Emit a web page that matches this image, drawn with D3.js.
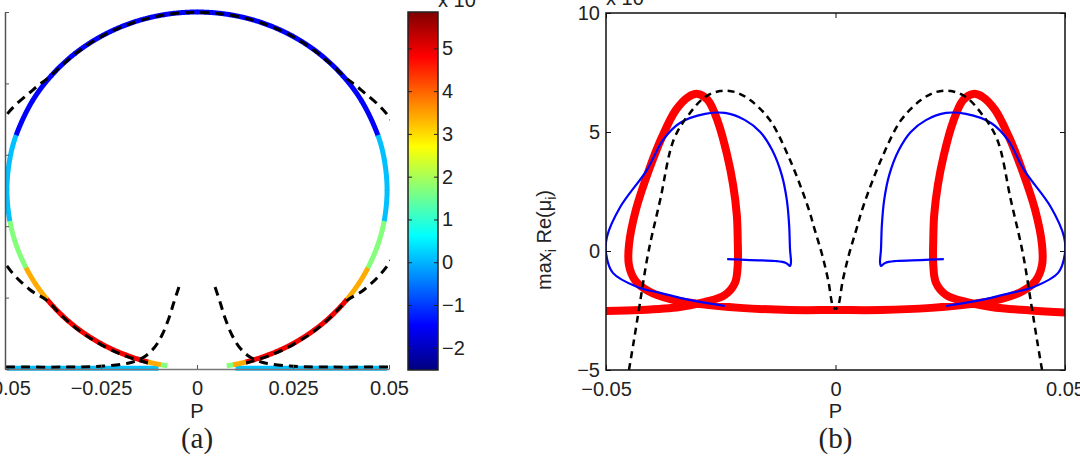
<!DOCTYPE html>
<html><head><meta charset="utf-8">
<script src="https://cdn.jsdelivr.net/npm/d3@7"></script>
<style>html,body{margin:0;padding:0;background:#fff;overflow:hidden}</style>
</head><body>
<svg id="c" width="1080" height="471"></svg>
<script>
// ---------------- Panel (a) data ----------------
const circP = [-0.00774,-0.00944,-0.01281,-0.01854,-0.02475,-0.03048,-0.03500,-0.03901,-0.04198,-0.04449,-0.04708,-0.04875,-0.0495,-0.04875,-0.04708,-0.04287,-0.03792,-0.03182,-0.02475,-0.01693,-0.00860,0,
  0.00860,0.01693,0.02475,0.03182,0.03792,0.04287,0.04708,0.04875,0.0495,0.04875,0.04708,0.04449,0.04198,0.03901,0.03500,0.03048,0.02475,0.01854,0.01281,0.00944,0.00774];
const circY = [0.045,0.060,0.099,0.196,0.348,0.543,0.744,0.972,1.186,1.414,1.737,2.074,2.507,2.940,3.277,3.754,4.109,4.417,4.666,4.850,4.962,5.000,
  4.962,4.850,4.666,4.417,4.109,3.754,3.277,2.940,2.507,2.074,1.737,1.414,1.186,0.972,0.744,0.543,0.348,0.196,0.099,0.060,0.045];
const circC = [1.7,3.4,4.9,4.9,4.9,4.9,4.9,3.4,3.4,1.7,1.7,0.1,0.1,0.1,-1.5,-1.5,-1.5,-1.5,-1.5,-1.5,-1.5,-1.5,
  -1.5,-1.5,-1.5,-1.5,-1.5,-1.5,0.1,0.1,0.1,1.7,1.7,3.4,3.4,4.9,4.9,4.9,4.9,4.9,3.4,1.7,1.7];
const baseLP = [-0.0495,-0.0100], baseRP = [0.0100,0.0495];
const baseY = [0.012,0.012];
const baseC = 0.1;
const dashOP = [-0.0128,-0.0185,-0.0248,-0.0305,-0.0350,-0.0392,-0.0435,-0.0500,-0.0590,-0.0500,-0.0427,-0.0385,-0.0318,-0.0248,-0.0169,-0.0086,0,
  0.0086,0.0169,0.0248,0.0318,0.0385,0.0427,0.0500,0.0590,0.0500,0.0435,0.0392,0.0350,0.0305,0.0248,0.0185,0.0128];
const dashOY = [0.085,0.18,0.335,0.53,0.735,0.965,1.11,1.48,2.507,3.53,3.91,4.09,4.41,4.66,4.845,4.958,4.995,
  4.958,4.845,4.66,4.41,4.09,3.91,3.53,2.507,1.48,1.11,0.965,0.735,0.53,0.335,0.18,0.085];
const dashIRP = [0.0047,0.0060,0.0073,0.0091,0.0112,0.0138,0.0177,0.0242,0.0320,0.0500];
const dashILP = [-0.0047,-0.0060,-0.0073,-0.0091,-0.0112,-0.0138,-0.0177,-0.0242,-0.0320,-0.0500];
const dashIY  = [1.148,0.938,0.714,0.476,0.294,0.168,0.084,0.042,0.028,0.028];
const xTicksA = [-0.05,-0.025,0,0.025,0.05];
const yTicksA = [0,1,2,3,4,5];
const cbTicks = [-2,-1,0,1,2,3,4,5];
const cbRange = [-2.52,5.85];

// ---------------- Panel (b) data ----------------
const bDashLP = [-0.0450,-0.0439,-0.0426,-0.0408,-0.0382,-0.0352,-0.0317,-0.0284,-0.0252,-0.0219,-0.0186,-0.0143,-0.0099,-0.0060,-0.0045,-0.0029,-0.0016,-0.0005,0];
const bDashRP = [0.0450,0.0439,0.0426,0.0408,0.0382,0.0352,0.0317,0.0284,0.0252,0.0219,0.0186,0.0143,0.0099,0.0060,0.0045,0.0029,0.0016,0.0005,0];
const bDashV  = [-5.0,-3.74,-2.18,-0.08,2.14,4.70,5.80,6.47,6.72,6.68,6.34,5.50,3.82,1.85,0.88,-0.17,-1.22,-2.35,-2.44];
const blueLP = [-0.0236,-0.0186,-0.0132,-0.0108,-0.0099,-0.0097,-0.0099,-0.0101,-0.0106,-0.0117,-0.0138,-0.0164,-0.0197,-0.0241,-0.0284,-0.0339,-0.0376,-0.0411,-0.0469,-0.0498,-0.0500,-0.0485,-0.0432,-0.0382,-0.0339,-0.0295,-0.0241];
const blueRP = [0.0236,0.0186,0.0132,0.0108,0.0099,0.0097,0.0099,0.0101,0.0106,0.0117,0.0138,0.0164,0.0197,0.0241,0.0284,0.0339,0.0376,0.0411,0.0469,0.0498,0.0500,0.0485,0.0432,0.0382,0.0339,0.0295,0.0241];
const blueV  = [-0.34,-0.38,-0.42,-0.50,-0.63,-0.46,0.04,1.09,2.14,3.19,4.24,5.00,5.50,5.80,5.76,5.38,4.66,3.40,1.85,0.59,-0.08,-0.92,-1.51,-1.76,-1.97,-2.14,-2.31];
const redP = [-0.0500,-0.0426,-0.0339,-0.0284,-0.0241,-0.0219,-0.0213,-0.0213,-0.0215,-0.0223,-0.0236,-0.0256,-0.0278,-0.0300,-0.0321,-0.0348,-0.0378,-0.0408,-0.0435,-0.0450,-0.0450,-0.0437,-0.0408,-0.0360,-0.0295,-0.0208,-0.0099,0,
  0.0099,0.0208,0.0295,0.0360,0.0408,0.0437,0.0450,0.0450,0.0435,0.0408,0.0378,0.0348,0.0321,0.0300,0.0278,0.0256,0.0236,0.0223,0.0215,0.0213,0.0213,0.0219,0.0241,0.0284,0.0339,0.0426,0.0500];
const redV = [-2.52,-2.48,-2.35,-2.14,-1.85,-1.34,-0.59,0.46,1.51,2.77,4.03,5.42,6.34,6.60,6.47,5.92,4.79,3.32,1.72,0.25,-0.59,-1.22,-1.68,-2.02,-2.23,-2.39,-2.48,-2.48,
  -2.48,-2.39,-2.23,-2.02,-1.68,-1.22,-0.59,0.25,1.72,3.32,4.79,5.92,6.47,6.60,6.34,5.42,4.03,2.77,1.51,0.46,-0.59,-1.34,-1.85,-2.14,-2.35,-2.50,-2.58];
const xTicksB = [-0.05,0,0.05];
const yTicksB = [-5,0,5,10];

// ---------------- drawing ----------------
const svg = d3.select("#c");
const FONT = "'Liberation Sans', Arial, Helvetica, sans-serif";
const SERIF = "'Liberation Serif', 'DejaVu Serif', serif";
const TXT = "#222";
const fmtX = v => v === 0 ? "0" : (v < 0 ? "\u2212" : "") + Math.abs(v);
const fmtY = v => (v < 0 ? "\u2212" : "") + Math.abs(v);

const jetT = d3.scaleLinear().domain([0,0.125,0.375,0.625,0.875,1])
  .range(["#000080","#0000ff","#00ffff","#ffff00","#ff0000","#800000"]).clamp(true);
const cNorm = d3.scaleLinear().domain(cbRange).range([0,1]);
const jet = v => jetT(cNorm(v));

// Panel a scales
const xA = d3.scaleLinear().domain([-0.05,0.05]).range([5,389]);
const yA = d3.scaleLinear().domain([0,5]).range([369,12]);
const defs = svg.append("defs");
defs.append("clipPath").attr("id","clipA").append("rect").attr("x",5).attr("y",0).attr("width",385).attr("height",372);
defs.append("clipPath").attr("id","clipB").append("rect").attr("x",606).attr("y",13).attr("width",459).attr("height",357);

const gA = svg.append("g");
const pA = gA.append("g").attr("clip-path","url(#clipA)");
const lineA = d3.line().x(d=>xA(d[0])).y(d=>yA(d[1]));
const smoothA = d3.line().x(d=>xA(d[0])).y(d=>yA(d[1])).curve(d3.curveCatmullRom);

// bottom cyan lines
[baseLP, baseRP].forEach(arr => {
  pA.append("path").attr("d", lineA(arr.map((p,i)=>[p, baseY[i]])))
    .attr("fill","none").attr("stroke", jet(baseC)).attr("stroke-width",5);
});
// colored circle: smooth path through the read points, coloured run by run
{
  const pts = circP.map((p,i)=>[p, circY[i]]);
  const tmp = pA.append("path").attr("d", smoothA(pts)).attr("fill","none").attr("stroke","none");
  const node = tmp.node(), L = node.getTotalLength(), N = 1500;
  const smp = d3.range(N+1).map(k => { const q = node.getPointAtLength(L*k/N); return [q.x,q.y]; });
  tmp.remove();
  const idx = []; let j = 0;
  pts.forEach(d => {
    const px = xA(d[0]), py = yA(d[1]);
    let best = j, bd = Infinity;
    for (let k = j; k <= N; k++) {
      const dd = (smp[k][0]-px)**2 + (smp[k][1]-py)**2;
      if (dd < bd) { bd = dd; best = k; }
    }
    idx.push(best); j = best;
  });
  for (let i = 0; i < pts.length - 1; i++) {
    const seg = smp.slice(idx[i], Math.min(N, idx[i+1]+1) + 1);
    pA.append("path").attr("d", d3.line()(seg))
      .attr("fill","none").attr("stroke", jet(circC[i])).attr("stroke-width",5);
  }
}
// dashed curves
const dashStyle = s => s.attr("fill","none").attr("stroke","#000").attr("stroke-width",3).attr("stroke-dasharray","9,6");
dashStyle(pA.append("path").attr("d", smoothA(dashOP.map((p,i)=>[p,dashOY[i]]))));
dashStyle(pA.append("path").attr("d", smoothA(dashIRP.map((p,i)=>[p,dashIY[i]]))));
dashStyle(pA.append("path").attr("d", smoothA(dashILP.map((p,i)=>[p,dashIY[i]]))));

// axes a
const axAx = gA.append("g").attr("transform","translate(0,369)")
  .call(d3.axisBottom(xA).tickValues(xTicksA).tickFormat(fmtX).tickSizeInner(-4).tickSizeOuter(0).tickPadding(12));
axAx.select(".domain").attr("stroke","#777").attr("stroke-width",1.5);
axAx.selectAll(".tick line").attr("stroke","#555");
axAx.selectAll("text").attr("font-family",FONT).attr("font-size",20).attr("fill",TXT);
const axAy = gA.append("g").attr("transform","translate(5,0)")
  .call(d3.axisLeft(yA).tickValues(yTicksA).tickFormat("").tickSizeInner(-4).tickSizeOuter(0));
axAy.select(".domain").attr("stroke","#555").attr("stroke-width",1.5);
axAy.selectAll(".tick line").attr("stroke","#555");
gA.append("text").attr("x",197).attr("y",418).attr("text-anchor","middle")
  .attr("font-family",FONT).attr("font-size",20).attr("fill",TXT).text("P");
gA.append("text").attr("x",197).attr("y",448).attr("text-anchor","middle")
  .attr("font-family",SERIF).attr("font-size",29).attr("fill",TXT).text("(a)");

// colorbar
const cY = d3.scaleLinear().domain(cbRange).range([370,12]);
const grad = defs.append("linearGradient").attr("id","jetGrad").attr("x1",0).attr("y1",1).attr("x2",0).attr("y2",0);
d3.range(0,1.0001,0.025).forEach(t => grad.append("stop").attr("offset",t).attr("stop-color",jetT(t)));
svg.append("rect").attr("x",408).attr("y",cY(cbRange[1])).attr("width",30).attr("height",cY(cbRange[0])-cY(cbRange[1]))
  .attr("fill","url(#jetGrad)").attr("stroke","#222").attr("stroke-width",1.5);
const cbR = svg.append("g").attr("transform","translate(438,0)")
  .call(d3.axisRight(cY).tickValues(cbTicks).tickFormat(fmtY).tickSizeInner(-4).tickSizeOuter(0).tickPadding(4));
cbR.select(".domain").remove();
cbR.selectAll(".tick line").attr("stroke","#222");
cbR.selectAll("text").attr("font-family",FONT).attr("font-size",20).attr("fill",TXT);
const cbL = svg.append("g").attr("transform","translate(408,0)")
  .call(d3.axisLeft(cY).tickValues(cbTicks).tickFormat("").tickSizeInner(-4).tickSizeOuter(0));
cbL.select(".domain").remove();
cbL.selectAll(".tick line").attr("stroke","#222");
svg.append("text").attr("x",438).attr("y",7).attr("font-family",FONT).attr("font-size",20).attr("fill",TXT).text("x 10");

// Panel b
const xB = d3.scaleLinear().domain([-0.05,0.05]).range([606,1065]);
const yB = d3.scaleLinear().domain([-5,10]).range([370,13]);
const gB = svg.append("g");
const pB = gB.append("g").attr("clip-path","url(#clipB)");
const smoothB = d3.line().x(d=>xB(d[0])).y(d=>yB(d[1])).curve(d3.curveCatmullRom);
pB.append("path").attr("d", smoothB(redP.map((p,i)=>[p,redV[i]])))
  .attr("fill","none").attr("stroke","#ff0000").attr("stroke-width",8).attr("stroke-linejoin","round").attr("stroke-linecap","round");
[blueLP, blueRP].forEach(arr => {
  pB.append("path").attr("d", smoothB(arr.map((p,i)=>[p,blueV[i]])))
    .attr("fill","none").attr("stroke","#0000ff").attr("stroke-width",2.2).attr("stroke-linejoin","round");
});
[bDashLP, bDashRP].forEach(arr => {
  pB.append("path").attr("d", smoothB(arr.map((p,i)=>[p,bDashV[i]])))
    .attr("fill","none").attr("stroke","#000").attr("stroke-width",2.5).attr("stroke-dasharray","7,5");
});
// box & axes
const axBx = gB.append("g").attr("transform","translate(0,370)")
  .call(d3.axisBottom(xB).tickValues(xTicksB).tickFormat(fmtX).tickSizeInner(-5).tickSizeOuter(0).tickPadding(12));
axBx.select(".domain").remove();
axBx.selectAll("text").attr("font-family",FONT).attr("font-size",20).attr("fill",TXT);
const axBt = gB.append("g").attr("transform","translate(0,13)")
  .call(d3.axisTop(xB).tickValues(xTicksB).tickFormat("").tickSizeInner(-5).tickSizeOuter(0));
axBt.select(".domain").remove();
const axBy = gB.append("g").attr("transform","translate(606,0)")
  .call(d3.axisLeft(yB).tickValues(yTicksB).tickFormat(fmtY).tickSizeInner(-5).tickSizeOuter(0).tickPadding(6));
axBy.select(".domain").remove();
axBy.selectAll("text").attr("font-family",FONT).attr("font-size",20).attr("fill",TXT);
const axBr = gB.append("g").attr("transform","translate(1065,0)")
  .call(d3.axisRight(yB).tickValues(yTicksB).tickFormat("").tickSizeInner(-5).tickSizeOuter(0));
axBr.select(".domain").remove();
gB.selectAll(".tick line").attr("stroke","#111");
gB.append("rect").attr("x",606).attr("y",13).attr("width",459).attr("height",357)
  .attr("fill","none").attr("stroke","#111").attr("stroke-width",1.5);
gB.append("text").attr("x",835.5).attr("y",418).attr("text-anchor","middle")
  .attr("font-family",FONT).attr("font-size",20).attr("fill",TXT).text("P");
gB.append("text").attr("x",835.5).attr("y",448).attr("text-anchor","middle")
  .attr("font-family",SERIF).attr("font-size",29).attr("fill",TXT).text("(b)");
svg.append("text").attr("x",606).attr("y",5).attr("font-family",FONT).attr("font-size",20).attr("fill",TXT).text("x 10");
const yl = gB.append("text").attr("transform","translate(551,240) rotate(-90)").attr("text-anchor","middle")
  .attr("font-family",FONT).attr("font-size",20).attr("fill",TXT);
yl.append("tspan").text("max");
yl.append("tspan").attr("dy",5).attr("font-size",14).text("i");
yl.append("tspan").attr("dy",-5).text(" Re(\u03bc");
yl.append("tspan").attr("dy",5).attr("font-size",14).text("i");
yl.append("tspan").attr("dy",-5).text(")");
</script>
</body></html>
